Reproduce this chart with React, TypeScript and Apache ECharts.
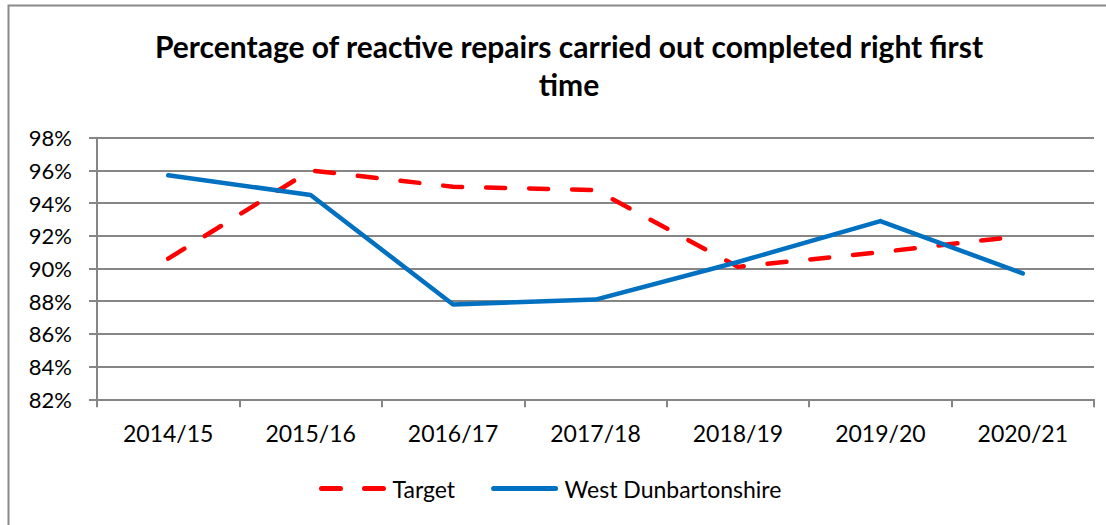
import React, { useEffect, useRef } from "react";
import * as echarts from "echarts";

const categories = ["2014/15", "2015/16", "2016/17", "2017/18", "2018/19", "2019/20", "2020/21"];
const targetValues = [90.6, 96.0, 95.0, 94.8, 90.1, 91.0, 92.0];
const westDunbartonshireValues = [95.7, 94.5, 87.8, 88.1, 90.4, 92.9, 89.7];
const titleText = "Percentage of reactive repairs carried out completed right first\ntime";
const seriesNames = ["Target", "West Dunbartonshire"];

const FONT = "Lato, 'Noto Sans', sans-serif";
const GRID_COLOR = "#868686";

export default function App() {
  const ref = useRef<HTMLDivElement>(null);
  useEffect(() => {
    if (!ref.current) return;
    const chart = echarts.init(ref.current, undefined, { renderer: "svg" });
    chart.setOption({
      animation: false,
      backgroundColor: "#ffffff",
      textStyle: { fontFamily: FONT, color: "#000" },
      title: {
        text: titleText,
        left: 564,
        top: 22,
        textAlign: "center",
        textStyle: {
          fontFamily: FONT,
          fontWeight: "bold",
          fontSize: 30,
          lineHeight: 38,
          color: "#000",
        },
      },
      graphic: [
        {
          type: "rect",
          shape: { x: 8.5, y: 5.5, width: 1110, height: 530 },
          style: { fill: "none", stroke: "#8a8a8a", lineWidth: 2 },
          silent: true,
        },
      ],
      legend: {
        bottom: 20,
        left: 314,
        itemWidth: 62,
        itemHeight: 14,
        itemGap: 36,
        itemStyle: { color: "transparent", borderColor: "transparent", borderWidth: 0 },
        lineStyle: { width: 5, cap: "round" },
        textStyle: { fontFamily: FONT, fontSize: 23, color: "#000", padding: [0, 0, 0, 4] },
        data: seriesNames,
      },
      grid: { left: 97, right: 12, top: 137.7, bottom: 125.7, containLabel: false },
      xAxis: {
        type: "category",
        data: categories,
        boundaryGap: true,
        axisLine: { lineStyle: { color: GRID_COLOR, width: 2 } },
        axisTick: { show: true, length: 8, alignWithLabel: false, lineStyle: { color: GRID_COLOR, width: 2 } },
        axisLabel: { fontFamily: FONT, fontSize: 23, color: "#000", margin: 22 },
      },
      yAxis: {
        type: "value",
        min: 82,
        max: 98,
        interval: 2,
        axisLine: { show: true, lineStyle: { color: GRID_COLOR, width: 2 } },
        axisTick: { show: true, length: 8, lineStyle: { color: GRID_COLOR, width: 2 } },
        splitLine: { show: true, lineStyle: { color: GRID_COLOR, width: 2 } },
        axisLabel: { fontFamily: FONT, fontSize: 22, color: "#000", margin: 25, formatter: "{value}%" },
      },
      series: [
        {
          name: seriesNames[0],
          type: "line",
          data: targetValues,
          symbol: "none",
          showSymbol: false,
          color: "#FF0000",
          lineStyle: { color: "#FF0000", width: 4.5, type: [19, 24], cap: "round", join: "round" },
        },
        {
          name: seriesNames[1],
          type: "line",
          data: westDunbartonshireValues,
          symbol: "none",
          showSymbol: false,
          color: "#0070C0",
          lineStyle: { color: "#0070C0", width: 4.5, cap: "round", join: "round" },
        },
      ],
    });
    return () => chart.dispose();
  }, []);
  return (
    <div
      ref={ref}
      style={{ position: "fixed", left: 0, top: 0, width: 1106, height: 525 }}
    />
  );
}
